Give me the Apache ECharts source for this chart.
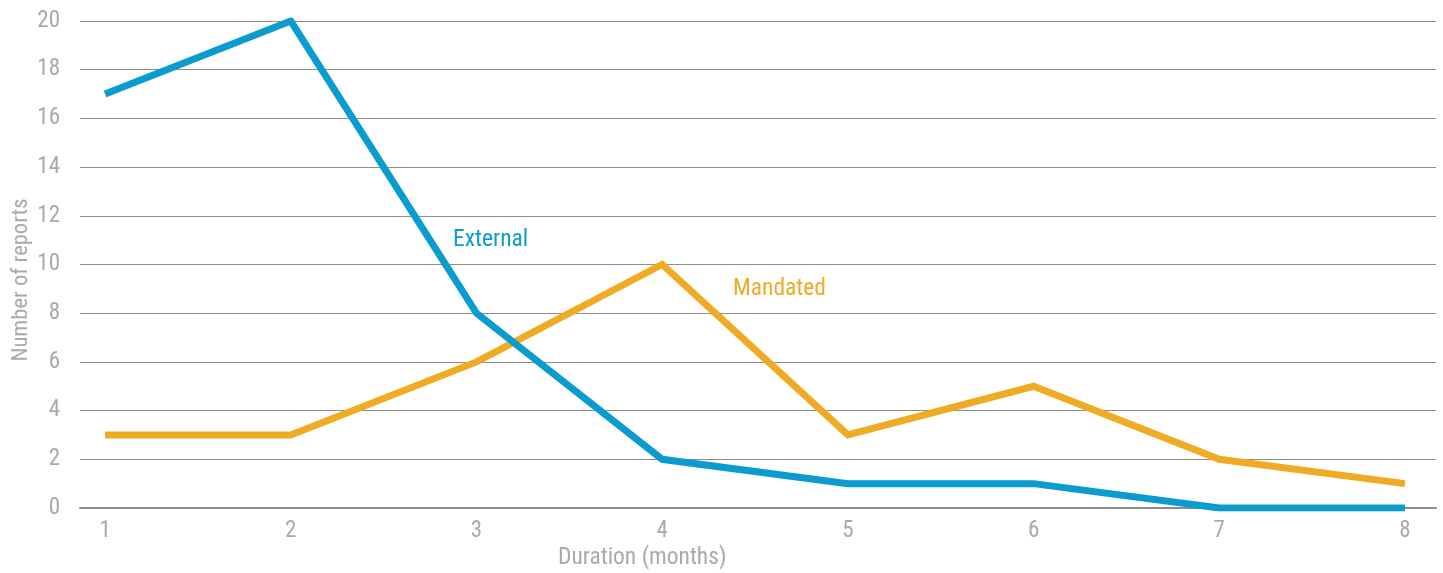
<!DOCTYPE html>
<html>
<head>
<meta charset="utf-8">
<style>
  html, body { margin: 0; padding: 0; background: #ffffff; }
  #chart { width: 1443px; height: 573px; }
</style>
<script src="https://cdn.jsdelivr.net/npm/echarts@6/dist/echarts.min.js"></script>
</head>
<body>
<div id="chart"></div>
<script>
// Report duration in months
const months = [1, 2, 3, 4, 5, 6, 7, 8];
// Number of reports per duration
const externalReports = [17, 20, 8, 2, 1, 1, 0, 0];
const mandatedReports = [3, 3, 6, 10, 3, 5, 2, 1];
// Value-axis ticks
const yTicks = [0, 2, 4, 6, 8, 10, 12, 14, 16, 18, 20];

const FONT = '"Roboto Condensed", "Liberation Sans Narrow", "DejaVu Sans Condensed", Roboto, sans-serif';
const BLUE = '#0a9bcf';
const ORANGE = '#eeab23';
const GREY_TEXT = '#a9a9a9';
const GRID_LINE = '#8e8e84';

const toPairs = vals => months.map((m, i) => [m, vals[i]]);

const chart = echarts.init(document.getElementById('chart'), null, { renderer: 'canvas' });

chart.setOption({
  animation: false,
  backgroundColor: '#ffffff',
  grid: { left: 80, right: 7, top: 21, bottom: 65, containLabel: false },
  xAxis: {
    type: 'value',
    min: 0.865,
    max: 8.167,
    splitLine: { show: false },
    axisLine: { show: true, onZero: true, lineStyle: { color: GRID_LINE, width: 2 } },
    axisTick: { show: false },
    axisLabel: {
      customValues: months,
      color: GREY_TEXT,
      fontFamily: FONT,
      fontSize: 23,
      margin: 12
    }
  },
  yAxis: {
    type: 'value',
    min: 0,
    max: 20,
    interval: 2,
    axisLine: { show: false },
    axisTick: { show: false },
    splitLine: { show: true, lineStyle: { color: GRID_LINE, width: 1 } },
    axisLabel: {
      customValues: yTicks,
      color: GREY_TEXT,
      fontFamily: FONT,
      fontSize: 23,
      margin: 20
    }
  },
  graphic: [
    {
      type: 'text',
      left: 558,
      top: 546,
      style: { text: 'Duration (months)', fill: GREY_TEXT, font: '23.5px ' + FONT }
    },
    {
      type: 'text',
      x: 21,
      y: 280,
      rotation: Math.PI / 2,
      style: {
        text: 'Number of reports',
        fill: GREY_TEXT,
        font: '22.5px ' + FONT,
        align: 'center',
        verticalAlign: 'middle'
      }
    },
    {
      type: 'text',
      left: 453,
      top: 228,
      style: { text: 'External', fill: BLUE, font: '23.5px ' + FONT }
    },
    {
      type: 'text',
      left: 733,
      top: 277,
      style: { text: 'Mandated', fill: ORANGE, font: '23.5px ' + FONT }
    }
  ],
  series: [
    {
      name: 'Mandated',
      type: 'line',
      data: toPairs(mandatedReports),
      symbol: 'none',
      lineStyle: { color: ORANGE, width: 7, cap: 'butt', join: 'miter' },
      z: 2
    },
    {
      name: 'External',
      type: 'line',
      data: toPairs(externalReports),
      symbol: 'none',
      lineStyle: { color: BLUE, width: 7, cap: 'butt', join: 'miter' },
      z: 3
    }
  ]
});
</script>
</body>
</html>
